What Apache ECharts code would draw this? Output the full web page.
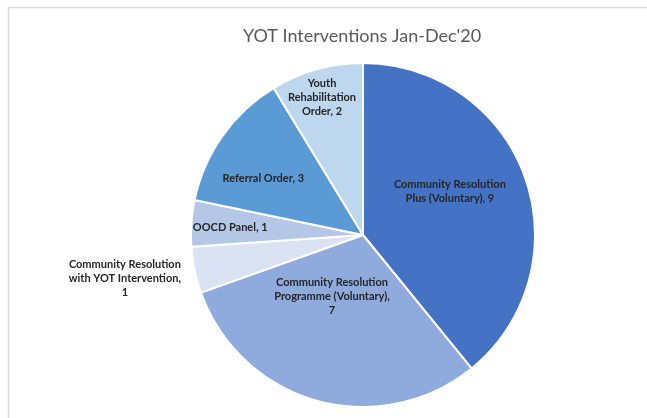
<!DOCTYPE html>
<html>
<head>
<meta charset="utf-8">
<script src="https://cdn.jsdelivr.net/npm/echarts@6/dist/echarts.min.js"></script>
<style>
  html, body { margin: 0; padding: 0; background: #fff; }
  #chart { width: 647px; height: 418px; }
</style>
</head>
<body>
<div id="chart"></div>
<script>
var categories = [
  "Community Resolution\nPlus (Voluntary), 9",
  "Community Resolution\nProgramme (Voluntary),\n7",
  "Community Resolution\nwith YOT Intervention,\n1",
  "OOCD Panel, 1",
  "Referral Order, 3",
  "Youth\nRehabilitation\nOrder, 2"
];
var values = [9, 7, 1, 1, 3, 2];
var colors = ["#4472C4", "#8FAADC", "#DAE3F3", "#B4C7E7", "#5B9BD5", "#BDD7EE"];
// label nudges from the default inside spot
var labelOffsets = [[3, -14], [-7, -24], [-151, 25], [-44, -1], [-27, -5], [-17, -52]];

var mychart = echarts.init(document.getElementById("chart"));
var data = values.map(function (v, i) {
  return {
    name: categories[i],
    value: v,
    itemStyle: { color: colors[i] },
    label: { offset: labelOffsets[i] }
  };
});
var option = {
  animation: false,
  title: {
    text: "YOT Interventions Jan-Dec'20",
    left: 357,
    top: 22,
    textAlign: "center",
    textStyle: { fontFamily: "Lato", fontSize: 18, fontWeight: "normal", color: "#595959" }
  },
  graphic: [
    {
      type: "rect",
      left: 6,
      top: 5,
      shape: { width: 680, height: 440 },
      style: { fill: "none", stroke: "#d9d9d9", lineWidth: 1.5 },
      silent: true
    }
  ],
  series: [
    {
      type: "pie",
      center: [363, 235],
      radius: 172,
      startAngle: 90,
      clockwise: true,
      itemStyle: { borderColor: "#fff", borderWidth: 2 },
      label: {
        show: true,
        position: "inside",
        fontFamily: "Lato",
        fontSize: 11,
        fontWeight: "bold",
        color: "#262626",
        lineHeight: 14,
        align: "center"
      },
      labelLine: { show: false },
      data: data
    }
  ]
};
mychart.setOption(option, true);
</script>
</body>
</html>
